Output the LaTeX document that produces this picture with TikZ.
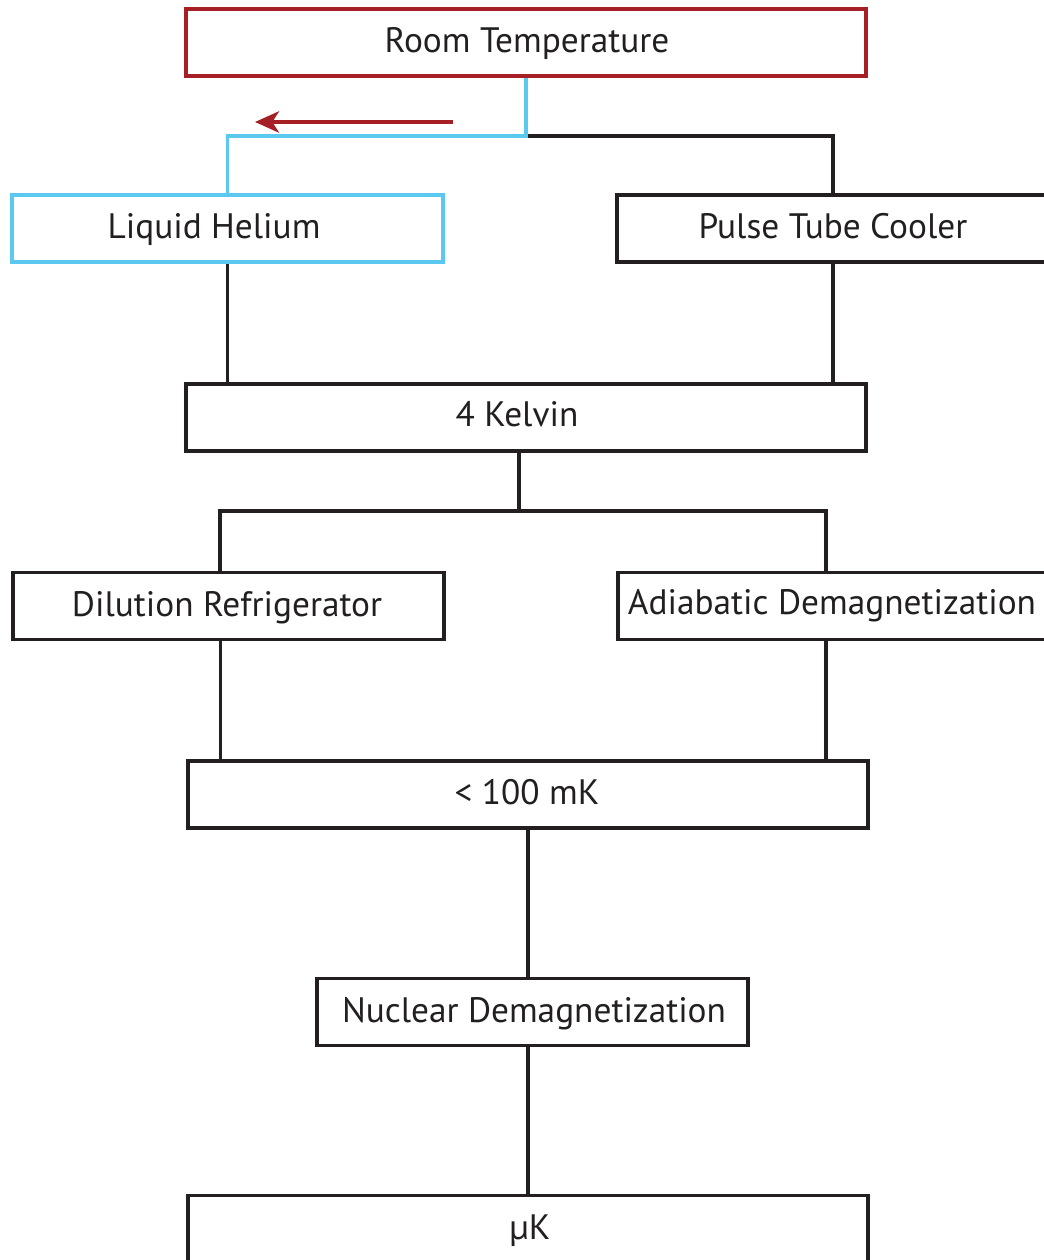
\documentclass[tikz,border=0pt]{standalone}
\usepackage{fontspec}
\setmainfont{PT Sans}
\usetikzlibrary{arrows.meta}
\definecolor{rtred}{HTML}{A51F24}
\definecolor{heblue}{HTML}{5BC8EF}
\definecolor{ink}{HTML}{231F20}
\begin{document}
\begin{tikzpicture}[x=0.75pt,y=-0.75pt,
  box/.style={draw=ink, line width=2.6pt, minimum height=50.5pt, inner sep=0pt},
  lbl/.style={font=\fontsize{26.5}{30}\selectfont, text=ink, inner sep=0pt, anchor=base},
  wire/.style={line width=2.8pt, draw=ink}]
\useasboundingbox (0,0) rectangle (1043,1260);
% boxes
\node[box, draw=rtred, minimum width=510pt] (rt) at (526,42.5) {};
\node[box, draw=heblue, minimum width=323.25pt] (lh) at (227.5,228.5) {};
\node[box, minimum width=334.5pt] (ptc) at (840,228.5) {};
\node[box, minimum width=510pt] (k4) at (526,417.5) {};
\node[box, minimum width=323.25pt] (dil) at (228.5,606) {};
\node[box, minimum width=333.75pt] (adi) at (840.5,606) {};
\node[box, minimum width=510pt] (mk) at (528,794.5) {};
\node[box, minimum width=323.25pt] (nd) at (532.5,1012) {};
\node[box, minimum width=510pt] (uk) at (528,1229) {};
% labels
\node[lbl] (rtt) at (527,52) {Room Temperature};
\node[lbl] (lht) at (214,238) {Liquid Helium};
\node[lbl] (ptct) at (833,238) {Pulse Tube Cooler};
\node[lbl] (k4t) at (517,426) {4 Kelvin};
\node[lbl] (dilt) at (227,616) {Dilution Refrigerator};
\node[lbl] (adit) at (832,614) {Adiabatic Demagnetization};
\node[lbl] (mkt) at (527,804) {< 100 mK};
\node[lbl] (ndt) at (534,1022) {Nuclear Demagnetization};
\node[lbl] (ukt) at (530,1239) {µK};
% connectors
\coordinate (hejoin) at (228,136);
\draw[wire] (rt.south |- hejoin) -| ([xshift=-5.25pt]ptc.north);
\draw[wire, draw=heblue] (rt.south) |- (hejoin) -| (lh.north);
\coordinate (arS) at (453,122);
\coordinate (arE) at (255,122);
\draw[line width=2.6pt, draw=rtred, -{Stealth[length=18pt,width=16pt,inset=5pt]}] (arS) -- (arE);
\draw[wire] (lh.south) -- (lh.south |- k4.north);
\draw[wire] ([xshift=-5.25pt]ptc.south) -- ([xshift=-5.25pt]ptc.south |- k4.north);
\coordinate (kjoin) at (519,511);
\draw[wire] ([xshift=-5.25pt]k4.south) -- (kjoin);
\draw[wire] ([xshift=-6.4pt]dil.north) |- (kjoin) -| ([xshift=-10.9pt]adi.north);
\draw[wire] ([xshift=-6pt]dil.south) -- ([xshift=-6pt]dil.south |- mk.north);
\draw[wire] ([xshift=-10.9pt]adi.south) -- ([xshift=-10.9pt]adi.south |- mk.north);
\draw[wire] (mk.south) -- (mk.south |- nd.north);
\draw[wire] (nd.south -| mk.south) -- (mk.south |- uk.north);
\end{tikzpicture}
\end{document}
